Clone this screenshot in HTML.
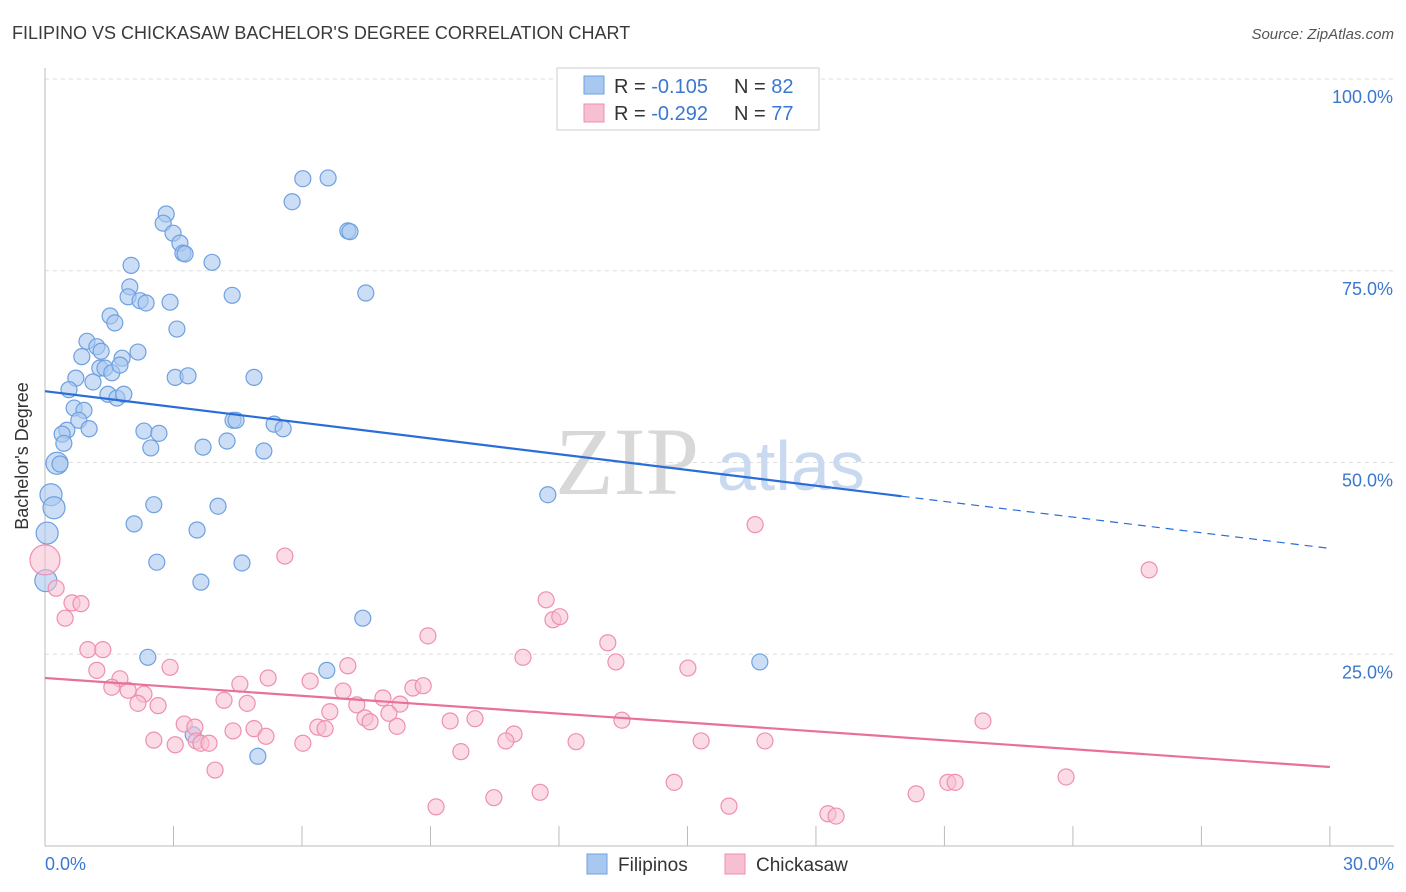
<!DOCTYPE html>
<html><head><meta charset="utf-8"><style>
body{margin:0;background:#fff;font-family:"Liberation Sans",sans-serif}
svg{display:block}
</style></head><body>
<svg width="1406" height="892" xmlns="http://www.w3.org/2000/svg">
<text x="12" y="39" font-size="18" fill="#3a3a3a">FILIPINO VS CHICKASAW BACHELOR'S DEGREE CORRELATION CHART</text>
<text x="1394" y="39" font-size="15" font-style="italic" fill="#555" text-anchor="end">Source: ZipAtlas.com</text>
<g id="grid"></g>
<text x="555" y="494" font-size="96" font-family="Liberation Serif" fill="#d8d8d8">ZIP</text>
<text x="717" y="490" font-size="70" fill="#c9d9f0">atlas</text>
<g id="pts"></g>
<g id="lines"></g>
<text x="28" y="456" font-size="18" fill="#333" transform="rotate(-90 28 456)" text-anchor="middle">Bachelor's Degree</text>
<text x="45" y="870" font-size="18" fill="#3a78d0">0.0%</text>
<text x="1394" y="870" font-size="18" fill="#3a78d0" text-anchor="end">30.0%</text>
<g>
<rect x="557" y="68" width="262" height="62" fill="#fff" stroke="#ccc"/>
<rect x="584" y="76" width="20" height="18" fill="#a8c8f0" stroke="#6fa0e0"/>
<rect x="584" y="104" width="20" height="18" fill="#f7c0d2" stroke="#ee8fb0"/>
<text x="614" y="93" font-size="20" fill="#333">R = <tspan fill="#3a78d0">-0.105</tspan><tspan x="734">N = </tspan><tspan fill="#3a78d0">82</tspan></text>
<text x="614" y="120" font-size="20" fill="#333">R = <tspan fill="#3a78d0">-0.292</tspan><tspan x="734">N = </tspan><tspan fill="#3a78d0">77</tspan></text>
</g>
<g>
<rect x="587" y="854" width="20" height="20" fill="#a8c8f0" stroke="#6fa0e0"/>
<text x="618" y="871" font-size="19" fill="#333">Filipinos</text>
<rect x="725" y="854" width="20" height="20" fill="#f7c0d2" stroke="#ee8fb0"/>
<text x="756" y="871" font-size="19" fill="#333">Chickasaw</text>
</g>
</svg>
<script>
const yTicks=[25,50,75,100];
const xTicks=[0,3,6,9,12,15,18,21,24,27,30];
const bluePx=[[166,214],[163,223],[173,233],[180,243],[183,253],[185,254],[212,262],[131,265],[303,179],[328,178],[292,202],[348,231],[350,232],[366,293],[232,295],[130,287],[128,297],[140,301],[146,303],[170,302],[110,316],[115,323],[177,329],[87,341],[97,347],[101,351],[82,357],[122,358],[138,352],[100,368],[105,368],[112,373],[120,365],[93,382],[76,378],[175,377],[188,376],[254,377],[69,390],[108,394],[117,398],[124,394],[74,408],[84,410],[79,420],[67,430],[89,429],[62,434],[144,431],[159,433],[233,420],[236,420],[274,424],[283,429],[64,443],[151,448],[203,447],[227,441],[264,451],[57,463],[60,464],[51,495],[54,508],[154,505],[218,506],[548,495],[134,524],[197,530],[47,533],[157,562],[242,563],[201,582],[46,581],[363,618],[148,657],[327,670],[760,662],[193,735],[258,756]];
const pinkPx=[[45,560],[56,588],[72,603],[81,604],[65,618],[285,556],[755,525],[1149,570],[546,600],[553,620],[560,617],[428,636],[608,643],[616,662],[523,657],[688,668],[88,650],[103,650],[97,670],[120,679],[112,687],[128,690],[144,694],[138,703],[158,706],[170,667],[240,684],[268,678],[310,681],[348,666],[343,691],[383,698],[413,688],[423,686],[400,704],[357,705],[365,718],[389,713],[330,712],[224,700],[247,703],[184,724],[195,727],[254,729],[233,731],[196,741],[201,743],[209,743],[175,745],[154,740],[266,736],[303,743],[318,727],[325,729],[370,722],[397,726],[450,721],[475,719],[514,734],[506,741],[576,742],[622,720],[701,741],[765,741],[983,721],[461,752],[215,770],[674,782],[436,807],[494,798],[540,792],[729,806],[828,814],[836,816],[916,794],[948,782],[955,782],[1066,777]];
// data values (x %, y %) derived from reading the chart
const blueX=bluePx.map(p=>+((p[0]-45)/42.83).toFixed(2));
const blueY=bluePx.map(p=>+((846-p[1])/7.67).toFixed(1));
const pinkX=pinkPx.map(p=>+((p[0]-45)/42.83).toFixed(2));
const pinkY=pinkPx.map(p=>+((846-p[1])/7.67).toFixed(1));
const blueTrend=[59.3,45.6,38.8]; // at x=0, 20, 30
const pinkTrend=[21.9,10.3];      // at x=0, 30
const X=v=>45+v*42.83, Y=v=>846-v*7.67;
const NS="http://www.w3.org/2000/svg";
function mk(t,a,p){const e=document.createElementNS(NS,t);for(const k in a)e.setAttribute(k,a[k]);p.appendChild(e);return e;}
const g=document.getElementById('grid');
yTicks.forEach(v=>{
 const l=mk('line',{x1:45,x2:1394,y1:Y(v),y2:Y(v),stroke:'#ddd','stroke-dasharray':'4,4'},g);
 
 
 const t=mk('text',{x:1393,y:Y(v)+24,'font-size':18,fill:'#3a78d0','text-anchor':'end'},g);t.textContent=v.toFixed(1)+'%';
 
 
});
mk('line',{x1:45,x2:45,y1:68,y2:846,stroke:'#bbb'},g);
mk('line',{x1:45,x2:1394,y1:846,y2:846,stroke:'#bbb'},g);
xTicks.forEach(v=>{const l=mk('line',{x1:X(v),x2:X(v),y1:826,y2:846,stroke:'#bbb'},g);
 
 });
const pg=document.getElementById('pts');
blueX.forEach((x,i)=>{const r=(x<0.3)?11:8;
 const c=mk('circle',{cx:X(x),cy:Y(blueY[i]),r:r,fill:'#a8c8f0','fill-opacity':0.6,stroke:'#6fa0e0','stroke-width':1.2},pg);
 
 });
pinkX.forEach((x,i)=>{const r=(x<0.1)?15:8;
 const c=mk('circle',{cx:X(x),cy:Y(pinkY[i]),r:r,fill:'#f7c0d2','fill-opacity':0.55,stroke:'#ee8fb0','stroke-width':1.2},pg);
 
 });
const lg=document.getElementById('lines');
let l=mk('line',{x1:X(0),y1:Y(blueTrend[0]),x2:X(20),y2:Y(blueTrend[1]),stroke:'#2a6dd9','stroke-width':2.2},lg);


l=mk('line',{x1:X(20),y1:Y(blueTrend[1]),x2:X(30),y2:Y(blueTrend[2]),stroke:'#2a6dd9','stroke-width':1.2,'stroke-dasharray':'8,6'},lg);


l=mk('line',{x1:X(0),y1:Y(pinkTrend[0]),x2:X(30),y2:Y(pinkTrend[1]),stroke:'#e8709a','stroke-width':2.2},lg);


</script>
</body></html>
